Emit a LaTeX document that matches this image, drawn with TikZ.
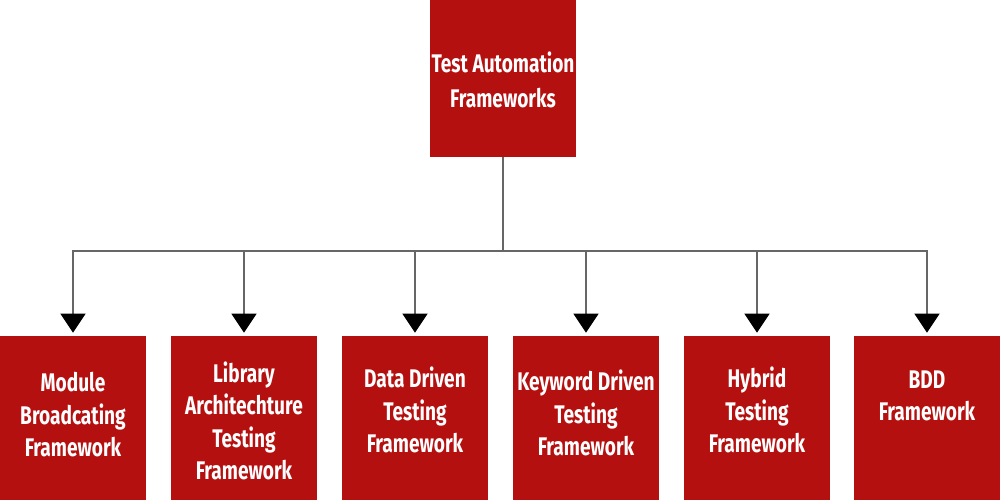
\documentclass[tikz,border=0pt]{standalone}
\usepackage{fontspec}
\setmainfont{Fira Sans}[FakeStretch=0.75]
\usetikzlibrary{arrows.meta}

\definecolor{boxred}{RGB}{181,16,16}

\tikzset{
    frame/.style={fill=boxred, draw=none, inner sep=0pt},
    rootbox/.style={frame, minimum width=2.92cm, minimum height=3.14cm},
    leafbox/.style={frame, minimum width=2.92cm, minimum height=3.28cm},
    label text/.style={text=white, align=center, inner sep=0pt,
        font=\fontsize{14.5}{18.5}\selectfont\bfseries},
    conn/.style={draw=black!60, line width=0.9pt, shorten >=0.06cm,
        -{Triangle[width=0.5cm, length=0.38cm, color=black]}}
}

\begin{document}
\begin{tikzpicture}[x=0.02cm, y=-0.02cm]
    \useasboundingbox (0,0) rectangle (1000,500);   % page size

    % root of the tree
    \node [rootbox] (root) at (503,78.5) {};
    \node [label text, font=\fontsize{14.5}{19.8}\selectfont\bfseries]
        (roottext) at (503,79.5) {Test Automation\\Frameworks};

    % the six kinds of framework
    \node [leafbox] (module)  at (73,418)  {};
    \node [leafbox] (library) at (244,418) {};
    \node [leafbox] (data)    at (415,418) {};
    \node [leafbox] (keyword) at (586,418) {};
    \node [leafbox] (hybrid)  at (757,418) {};
    \node [leafbox] (bdd)     at (927,418) {};

    \node [label text] (moduletext)  at (73,415)  {Module\\Broadcating\\Framework};
    \node [label text] (librarytext) at (244,421) {Library\\Architechture\\Testing\\Framework};
    \node [label text] (datatext)    at (415,410) {Data Driven\\Testing\\Framework};
    \node [label text] (keywordtext) at (586,413) {Keyword Driven\\Testing\\Framework};
    \node [label text] (hybridtext)  at (757,410) {Hybrid\\Testing\\Framework};
    \node [label text] (bddtext)     at (927,396) {BDD\\Framework};

    % connectors
    \coordinate (hub) at (503,251);
    \draw [draw=black!60, line width=0.9pt] (root.south) -- (hub);
    \foreach \leaf in {module,library,data,keyword,hybrid,bdd}
        \draw [conn] (hub) -| (\leaf.north);
\end{tikzpicture}
\end{document}
